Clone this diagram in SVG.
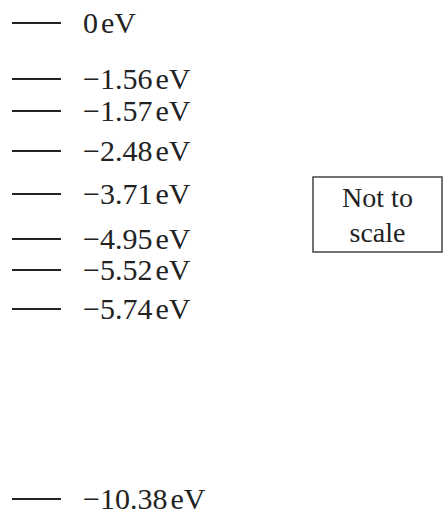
<svg xmlns="http://www.w3.org/2000/svg" width="446" height="518" viewBox="0 0 446 518">
<style>
.lvl{stroke:#222;stroke-width:2}
.lbl{font-family:"Liberation Serif","Times New Roman",serif;font-size:30px;fill:#222}
.note{font-family:"Liberation Serif","Times New Roman",serif;font-size:28px;fill:#222}
.box{fill:none;stroke:#444;stroke-width:1.5}
</style>
<rect width="446" height="518" fill="#fff"/>
<g id="levels">
<g id="l0"><line class="lvl" x1="12" y1="23" x2="61" y2="23"/><text class="lbl" x="83" y="33">0<tspan dx="3">eV</tspan></text></g>
<g id="l1"><line class="lvl" x1="12" y1="79" x2="61" y2="79"/><text class="lbl" x="83" y="89">−1.56<tspan dx="3">eV</tspan></text></g>
<g id="l2"><line class="lvl" x1="12" y1="111" x2="61" y2="111"/><text class="lbl" x="83" y="121">−1.57<tspan dx="3">eV</tspan></text></g>
<g id="l3"><line class="lvl" x1="12" y1="151" x2="61" y2="151"/><text class="lbl" x="83" y="161">−2.48<tspan dx="3">eV</tspan></text></g>
<g id="l4"><line class="lvl" x1="12" y1="194" x2="61" y2="194"/><text class="lbl" x="83" y="204">−3.71<tspan dx="3">eV</tspan></text></g>
<g id="l5"><line class="lvl" x1="12" y1="239" x2="61" y2="239"/><text class="lbl" x="83" y="249">−4.95<tspan dx="3">eV</tspan></text></g>
<g id="l6"><line class="lvl" x1="12" y1="270" x2="61" y2="270"/><text class="lbl" x="83" y="280">−5.52<tspan dx="3">eV</tspan></text></g>
<g id="l7"><line class="lvl" x1="12" y1="309" x2="61" y2="309"/><text class="lbl" x="83" y="319">−5.74<tspan dx="3">eV</tspan></text></g>
<g id="l8"><line class="lvl" x1="12" y1="499" x2="61" y2="499"/><text class="lbl" x="83" y="509">−10.38<tspan dx="3">eV</tspan></text></g>
</g>
<g id="note">
<rect class="box" x="313" y="177" width="129" height="75"/>
<text class="note" x="377.5" y="207" text-anchor="middle">Not to</text>
<text class="note" x="377.5" y="242" text-anchor="middle">scale</text>
</g>
</svg>
